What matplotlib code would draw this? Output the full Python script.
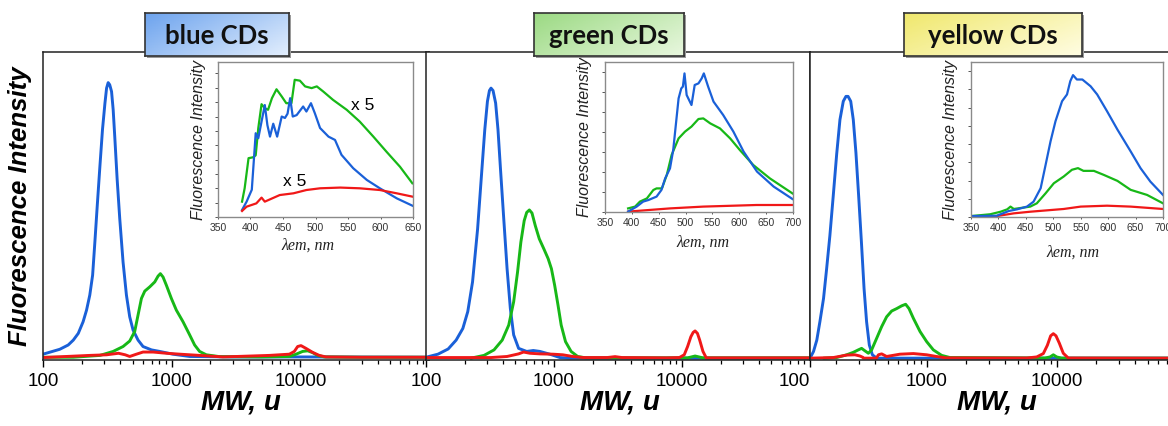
import numpy as np
import matplotlib
matplotlib.use("Agg")
import matplotlib.pyplot as plt
from matplotlib.ticker import LogLocator, NullFormatter, FixedLocator, NullLocator

W, H = 1168, 426
BLUE, GREEN, RED = "#1a60d8", "#17b817", "#f01818"

# ---------------- main panels: MW (u) vs intensity (0-100) ----------------
p1_blue_mw = [100, 113, 135, 157, 172, 188, 205, 218, 231, 243, 253, 264, 277, 290, 303, 312, 321, 330, 341, 351,
              361, 377, 395, 419, 445, 472, 501, 548, 599, 697, 807, 1023, 1380, 3000, 10000, 100000]
p1_blue_i = [1.3, 1.95, 2.9, 4.3, 5.9, 8.1, 11.9, 15.7, 20.6, 27.1, 37.9, 49.8, 62.8, 74.7, 83.3, 88.2, 90.0, 89.3, 87.1, 81.2,
             72.5, 58.4, 45.5, 31.4, 20.6, 13.5, 9.2, 5.9, 3.8, 2.7, 2.2, 1.3, 0.55, 0.4, 0.4, 0.3]
p1_green_mw = [100, 172, 277, 351, 419, 472, 516, 548, 582, 618, 676, 739, 784, 817, 857, 910, 995, 1087, 1225, 1380,
               1508, 1648, 1858, 2355, 5000, 8220, 9270, 10420, 11400, 12460, 13620, 15350, 30000, 100000]
p1_green_i = [0.3, 0.3, 0.9, 2.2, 3.8, 5.6, 8.7, 14.1, 19.5, 21.9, 23.3, 24.9, 26.8, 27.6, 26.5, 23.8, 19.5, 15.7, 11.9, 7.6,
              4.3, 2.2, 1.1, 0.5, 0.4, 0.55, 1.3, 2.2, 2.4, 1.8, 0.9, 0.4, 0.3, 0.3]
p1_red_mw = [100, 231, 312, 386, 435, 472, 532, 599, 718, 910, 1159, 1648, 2500, 5750, 8220, 8980, 9530, 10120, 11060,
             12460, 14030, 15830, 30000, 100000]
p1_red_i = [0.2, 0.9, 1.1, 1.6, 1.1, 0.55, 1.3, 2.0, 2.0, 1.6, 1.3, 0.9, 0.4, 0.9, 1.3, 2.2, 3.8, 4.1, 3.2,
            1.9, 0.9, 0.4, 0.3, 0.3]

p2_blue_mw = [100, 124, 149, 172, 194, 212, 231, 253, 271, 288, 302, 313, 322, 334, 350, 365, 382, 405, 430, 456,
              484, 529, 612, 689, 776, 927, 1112, 1327, 100000]
p2_blue_i = [0.3, 1.3, 3.0, 5.9, 9.7, 15.2, 24.9, 42.2, 59.5, 74.7, 83.9, 87.4, 88.2, 87.4, 83.3, 74.7, 61.7, 45.5, 29.2, 16.2,
             7.6, 3.2, 2.2, 2.5, 2.2, 1.3, 0.2, 0.0, 0.0]
p2_green_mw = [224, 284, 340, 394, 443, 484, 519, 551, 585, 612, 642, 673, 714, 767, 833, 900, 955, 1012, 1075, 1138,
               1230, 1360, 1530, 1775, 11060, 12650, 14580, 100000]
p2_green_i = [0.0, 0.9, 2.7, 5.9, 10.8, 18.4, 28.1, 37.9, 44.9, 47.6, 48.4, 47.4, 43.3, 39.0, 35.7, 32.5, 29.2, 23.8, 17.3, 10.8,
              5.4, 2.2, 0.55, 0.1, 0.1, 0.7, 0.1, 0.1]
p2_red_mw = [100, 322, 430, 529, 578, 650, 776, 982, 1172, 1400, 1690, 2600, 3000, 3400, 7530, 9530, 10410, 11060, 11730,
             12220, 12650, 13200, 13750, 14580, 15470, 17200, 100000]
p2_red_i = [0.2, 0.2, 0.55, 1.4, 2.0, 1.6, 1.4, 1.3, 1.1, 0.55, 0.2, 0.2, 0.5, 0.2, 0.1, 0.2, 1.1, 3.8, 7.0,
            8.4, 8.9, 8.1, 5.9, 2.2, 0.1, 0.1, 0.1]

p3_blue_mw = [126, 134, 142, 150, 160, 169, 179, 190, 202, 214, 227, 238, 247, 259, 271, 284, 298, 313, 328, 343,
              360, 380, 410, 100000]
p3_blue_i = [0.0, 2.2, 5.9, 11.9, 19.5, 29.2, 40.0, 53.0, 66.7, 77.9, 83.9, 85.5, 85.5, 83.9, 77.9, 67.1, 53.0, 37.9, 22.7, 11.9,
             4.3, 1.1, 0.0, 0.0]
p3_green_mw = [160, 202, 241, 271, 296, 314, 333, 354, 375, 410, 448, 489, 535, 585, 639, 685, 727, 786, 884, 994,
               1119, 1297, 1503, 8090, 8840, 9370, 9950, 10870, 100000]
p3_green_i = [0.0, 0.2, 1.1, 1.9, 2.7, 3.2, 2.4, 1.6, 2.7, 6.5, 10.3, 13.5, 15.4, 16.2, 17.1, 17.6, 16.2, 13.0, 8.7, 5.4,
              2.7, 0.9, 0.2, 0.05, 0.4, 1.1, 0.4, 0.0, 0.0]
p3_red_mw = [126, 190, 241, 279, 305, 320, 324, 408, 423, 448, 489, 619, 786, 994, 1180, 1400, 5850, 6980, 7850, 8430,
             8940, 9370, 9820, 10420, 11180, 12210, 100000]
p3_red_i = [0.0, 0.2, 1.0, 1.1, 0.7, 0.3, 0.0, 0.0, 1.1, 1.4, 0.55, 1.3, 1.5, 1.1, 0.55, 0.1, 0.05, 0.4, 1.5, 4.2,
            7.3, 8.0, 7.3, 4.9, 1.6, 0.05, 0.0]

# ---------------- insets: emission wavelength (nm) vs intensity ----------------
in1_green_nm = [387, 391, 397, 404, 408, 412, 417, 422, 427, 433, 440, 448, 455, 463, 468, 476, 484, 494, 502, 512, 527, 548, 568, 589, 609, 630, 649]
in1_green_i = [1.07, 2.0, 4.1, 4.16, 4.3, 6.2, 7.86, 7.58, 7.47, 8.28, 8.9, 8.4, 7.93, 7.93, 9.56, 9.5, 9.1, 8.98, 9.1, 8.74, 8.16, 7.47, 6.65, 5.6, 4.56, 3.5, 2.35]
in1_blue_nm = [387, 394, 402, 405, 408, 412, 417, 422, 426, 430, 435, 441, 448, 453, 457, 461, 465, 471, 481, 486, 493, 499, 507, 520, 530, 540, 558, 579, 599, 625, 649]
in1_blue_i = [0.49, 1.07, 1.9, 3.86, 5.84, 5.49, 6.65, 7.8, 6.4, 5.6, 6.5, 5.6, 7.0, 6.9, 7.2, 8.28, 7.0, 7.1, 7.7, 7.35, 7.93, 7.23, 6.2, 5.6, 5.37, 4.33, 3.4, 2.58, 2.0, 1.3, 0.79]
in1_red_nm = [387, 394, 409, 417, 422, 445, 466, 486, 507, 538, 568, 599, 625, 649]
in1_red_i = [0.42, 0.72, 0.95, 1.35, 1.07, 1.53, 1.65, 1.88, 2.0, 2.05, 2.0, 1.88, 1.65, 1.42]

in2_blue_nm = [393, 409, 421, 431, 446, 455, 462, 471, 477, 487, 492, 495, 498, 502, 511, 517, 524, 530, 534, 542, 552, 570, 589, 608, 633, 664, 699]
in2_blue_i = [0.02, 0.27, 0.52, 0.6, 0.77, 1.1, 1.68, 2.18, 3.1, 5.68, 6.18, 6.27, 6.93, 5.85, 5.35, 6.35, 6.43, 6.68, 6.93, 6.27, 5.52, 4.85, 4.02, 3.02, 2.02, 1.27, 0.65]
in2_green_nm = [393, 406, 415, 428, 440, 446, 456, 465, 474, 487, 499, 511, 524, 533, 546, 564, 583, 601, 626, 657, 699]
in2_green_i = [0.18, 0.27, 0.52, 0.68, 1.1, 1.18, 1.18, 1.85, 2.85, 3.68, 4.02, 4.27, 4.65, 4.68, 4.43, 4.18, 3.68, 3.1, 2.35, 1.68, 0.93]
in2_red_nm = [393, 471, 533, 595, 632, 699]
in2_red_i = [0.02, 0.18, 0.27, 0.32, 0.35, 0.35]

in3_blue_nm = [350, 397, 419, 434, 452, 464, 477, 486, 495, 504, 516, 525, 531, 536, 543, 553, 568, 580, 598, 617, 641, 659, 677, 700]
in3_blue_i = [0.05, 0.07, 0.33, 0.42, 0.57, 0.84, 1.58, 2.86, 4.15, 5.25, 6.35, 6.72, 7.45, 7.78, 7.54, 7.54, 7.17, 6.72, 5.8, 4.79, 3.6, 2.68, 1.94, 1.21]
in3_green_nm = [350, 385, 404, 416, 422, 428, 458, 470, 486, 501, 519, 534, 545, 555, 574, 592, 617, 641, 671, 700]
in3_green_i = [0.05, 0.15, 0.29, 0.42, 0.57, 0.44, 0.57, 0.75, 1.3, 1.85, 2.22, 2.59, 2.68, 2.53, 2.53, 2.31, 1.98, 1.49, 1.21, 0.75]
in3_red_nm = [350, 397, 428, 458, 519, 550, 598, 641, 700]
in3_red_i = [0.05, 0.05, 0.2, 0.29, 0.44, 0.57, 0.62, 0.57, 0.44]

titles = ["blue CDs", "green CDs", "yellow CDs"]
SANS = ["Liberation Sans", "DejaVu Sans"]
SERIF = ["Liberation Serif", "DejaVu Serif"]


def rect(l, t, r, b):
    return [l / W, 1 - b / H, (r - l) / W, (b - t) / H]


fig = plt.figure(figsize=(W / 100, H / 100), dpi=100)

main_specs = [
    (43, 429, (100, 1e5), [100, 1000, 10000], ["100", "1000", "10000"], 241),
    (426, 810, (100, 1e5), [100, 1000, 10000, 100000], ["100", "1000", "10000", "100"], 620),
    (810, 1187, (10 ** 2.1, 1e5), [1000, 10000], ["1000", "10000"], 997),
]
series = [
    [(p1_blue_mw, p1_blue_i, BLUE), (p1_green_mw, p1_green_i, GREEN), (p1_red_mw, p1_red_i, RED)],
    [(p2_blue_mw, p2_blue_i, BLUE), (p2_green_mw, p2_green_i, GREEN), (p2_red_mw, p2_red_i, RED)],
    [(p3_blue_mw, p3_blue_i, BLUE), (p3_green_mw, p3_green_i, GREEN), (p3_red_mw, p3_red_i, RED)],
]

for k, (l, r, xl, ticks, labels, xlab) in enumerate(main_specs):
    ax = fig.add_axes(rect(l, 52, r, 360))
    for mw, iv, c in series[k]:
        ax.plot(mw, iv, color=c, lw=2.1, solid_joinstyle="round", solid_capstyle="round")
    ax.set_xscale("log")
    ax.set_xlim(*xl)
    ax.set_ylim(-0.6, 100)
    ax.xaxis.set_major_locator(FixedLocator(ticks))
    ax.set_xticklabels(labels, fontsize=13.5, family=SANS)
    ax.xaxis.set_minor_locator(LogLocator(base=10, subs=np.arange(2, 10)))
    ax.xaxis.set_minor_formatter(NullFormatter())
    ax.yaxis.set_major_locator(NullLocator())
    ax.tick_params(axis="x", which="major", length=5, width=1, direction="out", pad=4)
    ax.tick_params(axis="x", which="minor", length=3, width=0.9, direction="out")
    for s in ax.spines.values():
        s.set_linewidth(1.1)
        s.set_color("#222222")
    if k == 1:
        ax.get_xticklabels()[-1].set_ha("right")
    fig.text(xlab / W, 1 - 403 / H, "MW, u", ha="center", va="center", fontsize=20,
             fontweight="bold", style="italic", family=SANS)

fig.text(20 / W, 1 - 206 / H, "Fluorescence Intensity", rotation=90, ha="center", va="center",
         fontsize=18.5, fontweight="bold", style="italic", family=SANS)

# ---------------- insets ----------------
inset_specs = [
    (218, 62, 413, 217, (350, 650), 10.8, [350, 400, 450, 500, 550, 600, 650], (308, 246)),
    (605, 62, 793, 212, (350, 700), 7.5, [350, 400, 450, 500, 550, 600, 650, 700], (703, 243)),
    (971, 62, 1163, 217, (350, 700), 8.5, [350, 400, 450, 500, 550, 600, 650, 700], (1073, 253)),
]
inset_series = [
    [(in1_green_nm, in1_green_i, GREEN), (in1_blue_nm, in1_blue_i, BLUE), (in1_red_nm, in1_red_i, RED)],
    [(in2_red_nm, in2_red_i, RED), (in2_green_nm, in2_green_i, GREEN), (in2_blue_nm, in2_blue_i, BLUE)],
    [(in3_red_nm, in3_red_i, RED), (in3_green_nm, in3_green_i, GREEN), (in3_blue_nm, in3_blue_i, BLUE)],
]
for k, (l, t, r, b, xl, ytop, xt, lab) in enumerate(inset_specs):
    ia = fig.add_axes(rect(l, t, r, b))
    ia.set_facecolor("white")
    for nm, iv, c in inset_series[k]:
        ia.plot(nm, iv, color=c, lw=1.6)
    ia.set_xlim(*xl)
    ia.set_ylim(0, ytop)
    ia.set_xticks(xt)
    ia.set_xticklabels([str(v) for v in xt], fontsize=7.5, family=SANS, color="#333333")
    ia.set_yticks(np.arange(0, int(ytop) + 1, 1))
    ia.set_yticklabels([])
    ia.tick_params(axis="y", length=2.5, width=0.7, direction="out", color="#555555")
    ia.tick_params(axis="x", length=1.5, width=0.7, direction="out", color="#555555", pad=3)
    for s in ia.spines.values():
        s.set_color("#8a8a8a")
        s.set_linewidth(1.0)
    ia.set_ylabel("Fluorescence Intensity", fontsize=11.5, style="italic", family=SANS,
                  labelpad=3, color="#222222")
    fig.text(lab[0] / W, 1 - lab[1] / H, "λem, nm", ha="center", va="center",
             fontsize=11.5, style="italic", family=SERIF, color="#222222")

fig.text(363 / W, 1 - 105 / H, "x 5", ha="center", va="center", fontsize=12.5, family=SANS)
fig.text(295 / W, 1 - 182 / H, "x 5", ha="center", va="center", fontsize=12.5, family=SANS)

# ---------------- title boxes ----------------
box_specs = [
    (145, 13, 289, 56, ("#6ea4ee", "#e2eefd")),
    (534, 13, 684, 56, ("#9cda84", "#e8f7de")),
    (904, 13, 1082, 56, ("#f0e86e", "#fffde2")),
]
for k, (l, t, r, b, (c0, c1)) in enumerate(box_specs):
    sh = fig.add_axes(rect(l + 2, t + 2, r + 2, b + 2))
    sh.set_facecolor("#9a9a9a")
    sh.set_xticks([]); sh.set_yticks([])
    for s in sh.spines.values():
        s.set_visible(False)
    bx = fig.add_axes(rect(l, t, r, b))
    a0 = np.array(matplotlib.colors.to_rgb(c0))
    a1 = np.array(matplotlib.colors.to_rgb(c1))
    gx = np.linspace(0, 1, 64)[None, :]
    gy = np.linspace(0, 1, 16)[:, None]
    f = np.clip(0.65 * gx + 0.35 * gy, 0, 1)
    img = a0[None, None, :] * (1 - f[..., None]) + a1[None, None, :] * f[..., None]
    bx.imshow(img, aspect="auto", extent=(0, 1, 0, 1), origin="upper")
    bx.set_xlim(0, 1); bx.set_ylim(0, 1)
    bx.set_xticks([]); bx.set_yticks([])
    for s in bx.spines.values():
        s.set_color("#333333")
        s.set_linewidth(1.2)
    bx.text(0.5, 0.47, titles[k], ha="center", va="center", fontsize=18.5, fontweight="bold",
            family=["Lato", "DejaVu Sans"], color="#111111")

fig.savefig("out.png", dpi=100)
